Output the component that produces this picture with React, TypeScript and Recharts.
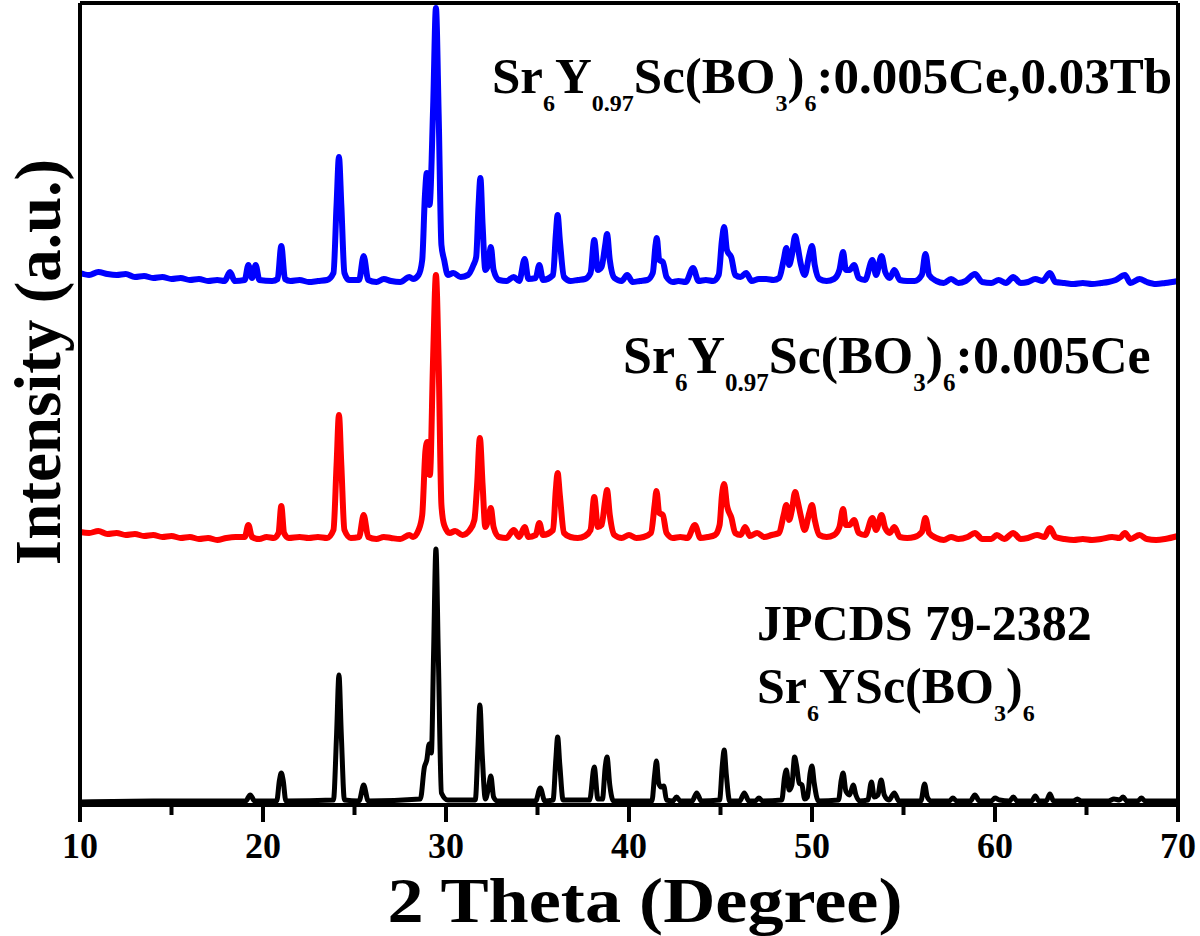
import React from "react";
import { LineChart, Line, XAxis, YAxis } from "recharts";

// 2θ (degree), intensity (a.u., offset stacked)
const bluePattern: [number, number][] = [
  [10, 532], [10.5, 530], [11, 533], [11.5, 531], [12, 530], [12.5, 531], [13, 528], [13.5, 529], [14, 527], [14.5, 528],
  [15, 526], [15.5, 527], [16, 525], [16.5, 526], [17, 524], [17.5, 525], [17.9, 524], [18.2, 533], [18.45, 524],
  [19.0, 525], [19.2, 540], [19.4, 527], [19.6, 540], [19.8, 525],
  [20.5, 524], [20.8, 526], [21.0, 559], [21.2, 526], [21.5, 524],
  [22, 525], [22.5, 523], [23, 524], [23.5, 525], [23.85, 532], [24.02, 600], [24.15, 648], [24.28, 600], [24.45, 532], [24.7, 525],
  [25.25, 525], [25.5, 549], [25.75, 525],
  [26.2, 523], [26.6, 526], [27.0, 524], [27.5, 523], [28.0, 528], [28.2, 526], [28.5, 530], [28.7, 545], [28.85, 610], [28.95, 632],
  [29.1, 600], [29.3, 700], [29.45, 797], [29.6, 690], [29.75, 560], [29.9, 545], [30.1, 530], [30.4, 532], [30.8, 528], [31.2, 530],
  [31.5, 540], [31.65, 548], [31.78, 600], [31.88, 627], [32.0, 580], [32.15, 535], [32.3, 540], [32.45, 558], [32.6, 535], [32.9, 525],
  [33.3, 524], [33.7, 528], [34.0, 524], [34.3, 546], [34.5, 526], [34.9, 527], [35.1, 540], [35.3, 525],
  [35.85, 530], [36.0, 570], [36.1, 590], [36.22, 565], [36.45, 528], [36.8, 524], [37.2, 525], [37.6, 526], [37.9, 532], [38.1, 565],
  [38.3, 535], [38.5, 538], [38.7, 560], [38.8, 571], [38.95, 545], [39.2, 527], [39.6, 524], [39.9, 530], [40.2, 523], [40.6, 524],
  [41.0, 525], [41.3, 532], [41.45, 560], [41.52, 567], [41.65, 545], [41.85, 543], [42.05, 528], [42.4, 523], [42.7, 524], [43.1, 523],
  [43.5, 537], [43.8, 524], [44.2, 525], [44.6, 524], [44.9, 530], [45.08, 565], [45.2, 578], [45.35, 555], [45.6, 547], [45.8, 530],
  [46.1, 528], [46.4, 532], [46.7, 524], [47.1, 526], [47.5, 526], [47.9, 525], [48.2, 527], [48.45, 545], [48.6, 557], [48.75, 540],
  [48.9, 550], [49.08, 569], [49.2, 560], [49.4, 540], [49.6, 530], [49.85, 550], [50.0, 559], [50.15, 540], [50.4, 526], [50.8, 524],
  [51.2, 526], [51.5, 535], [51.7, 553], [51.85, 535], [52.05, 535], [52.3, 540], [52.55, 527], [52.9, 525], [53.3, 545], [53.5, 530],
  [53.8, 549], [54.0, 533], [54.25, 527], [54.5, 535], [54.8, 525], [55.2, 524], [55.6, 524], [56.0, 530], [56.2, 551], [56.4, 530],
  [56.8, 524], [57.2, 522], [57.6, 526], [58.0, 522], [58.4, 524], [58.9, 531], [59.3, 523], [59.8, 522], [60.2, 525], [60.6, 522],
  [61.0, 528], [61.4, 522], [61.8, 523], [62.2, 526], [62.6, 524], [63.0, 532], [63.3, 523], [63.8, 522], [64.3, 521], [64.8, 522],
  [65.3, 521], [65.8, 522], [66.2, 523], [66.6, 525], [67.1, 530], [67.4, 522], [67.9, 526], [68.3, 523], [68.8, 521], [69.3, 522], [70, 524],
];

const redPattern: [number, number][] = [
  [10, 273], [10.5, 272], [11, 274], [11.5, 271], [12, 272], [12.5, 270], [13, 271], [13.5, 269], [14, 270], [14.5, 268],
  [15, 269], [15.5, 267], [16, 268], [16.5, 266], [17, 267], [17.5, 265], [18, 267], [18.5, 268], [19.0, 268], [19.2, 280],
  [19.4, 268], [19.8, 266], [20.2, 268], [20.6, 267], [20.85, 272], [21.0, 299], [21.15, 272], [21.4, 267], [22, 268], [22.5, 267],
  [23, 268], [23.5, 267], [23.85, 275], [24.02, 340], [24.15, 390], [24.28, 340], [24.45, 275], [24.8, 267], [25.25, 268], [25.5, 290],
  [25.75, 268], [26.2, 266], [26.6, 268], [27.0, 267], [27.5, 266], [28.0, 270], [28.2, 268], [28.5, 275], [28.7, 290], [28.88, 355],
  [28.98, 363], [29.12, 330], [29.3, 450], [29.45, 530], [29.6, 440], [29.75, 300], [29.9, 280], [30.2, 272], [30.5, 274], [30.9, 270],
  [31.3, 275], [31.55, 285], [31.7, 320], [31.85, 367], [32.0, 320], [32.15, 278], [32.3, 285], [32.45, 297], [32.6, 278], [32.9, 268],
  [33.3, 267], [33.7, 275], [34.0, 268], [34.3, 278], [34.5, 268], [34.9, 270], [35.1, 282], [35.3, 270], [35.85, 275], [36.0, 315],
  [36.1, 332], [36.22, 310], [36.45, 272], [36.8, 268], [37.2, 267], [37.6, 269], [37.9, 275], [38.1, 308], [38.3, 278], [38.5, 280],
  [38.7, 305], [38.8, 315], [38.95, 290], [39.2, 270], [39.6, 267], [40.0, 270], [40.4, 267], [40.8, 268], [41.2, 272], [41.4, 300],
  [41.5, 314], [41.65, 292], [41.85, 290], [42.05, 272], [42.4, 267], [42.8, 268], [43.2, 267], [43.6, 280], [43.9, 267], [44.3, 268],
  [44.7, 270], [44.95, 280], [45.08, 310], [45.2, 321], [45.35, 300], [45.6, 287], [45.8, 272], [46.1, 270], [46.35, 278], [46.6, 269],
  [47.0, 272], [47.4, 268], [47.8, 270], [48.2, 272], [48.45, 290], [48.6, 300], [48.75, 285], [48.9, 295], [49.08, 313], [49.2, 305],
  [49.4, 288], [49.6, 275], [49.85, 292], [50.0, 300], [50.15, 285], [50.4, 270], [50.8, 268], [51.2, 270], [51.5, 278], [51.7, 296],
  [51.85, 280], [52.05, 280], [52.3, 285], [52.55, 272], [52.9, 270], [53.3, 287], [53.5, 275], [53.8, 290], [54.0, 277], [54.25, 272],
  [54.5, 278], [54.8, 268], [55.2, 267], [55.6, 268], [56.0, 273], [56.2, 287], [56.4, 272], [56.8, 267], [57.2, 265], [57.6, 268],
  [58.0, 266], [58.5, 268], [58.9, 272], [59.3, 266], [59.8, 266], [60.1, 270], [60.5, 266], [61.0, 272], [61.4, 266], [61.8, 267],
  [62.3, 270], [62.7, 268], [63.0, 277], [63.3, 268], [63.8, 266], [64.3, 265], [64.8, 266], [65.3, 265], [65.8, 266], [66.4, 268],
  [66.8, 267], [67.1, 272], [67.4, 266], [67.9, 270], [68.3, 266], [68.8, 265], [69.3, 266], [70, 269],
];

const blackPattern: [number, number][] = [
  [10, 3], [14, 4], [19.05, 4], [19.3, 10], [19.55, 4],
  [20.75, 4], [20.9, 25], [21.0, 32], [21.1, 25], [21.25, 4],
  [23.85, 5], [24.02, 70], [24.15, 130], [24.28, 70], [24.45, 5],
  [25.25, 4], [25.5, 20], [25.75, 4],
  [28.6, 6], [28.82, 38], [28.95, 45], [29.08, 61], [29.2, 52], [29.32, 150], [29.45, 256], [29.58, 150], [29.75, 12], [30.1, 5],
  [31.6, 5], [31.75, 60], [31.85, 100], [31.98, 50], [32.15, 6], [32.3, 15], [32.45, 29], [32.6, 8], [32.8, 4],
  [34.9, 4], [35.15, 17], [35.4, 4],
  [35.85, 5], [36.0, 45], [36.1, 68], [36.22, 40], [36.4, 5],
  [37.85, 5], [38.1, 38], [38.3, 6], [38.55, 6], [38.7, 38], [38.8, 48], [38.95, 20], [39.15, 4],
  [41.25, 4], [41.4, 30], [41.5, 44], [41.62, 22], [41.75, 18], [41.9, 19], [42.05, 5], [42.4, 4], [42.6, 8], [42.8, 4],
  [43.45, 4], [43.7, 12], [43.95, 4],
  [44.95, 5], [45.1, 40], [45.2, 55], [45.32, 30], [45.5, 4],
  [46.05, 4], [46.3, 12], [46.55, 4], [46.9, 4], [47.1, 7], [47.3, 4],
  [48.35, 5], [48.5, 28], [48.6, 35], [48.75, 15], [48.9, 20], [49.05, 48], [49.15, 40], [49.3, 22], [49.45, 20], [49.6, 6],
  [49.75, 8], [49.9, 32], [50.0, 39], [50.12, 22], [50.35, 4],
  [51.45, 5], [51.6, 25], [51.7, 32], [51.85, 14], [52.05, 10], [52.25, 20], [52.4, 10], [52.6, 4],
  [53.05, 5], [53.25, 23], [53.4, 8], [53.6, 10], [53.78, 25], [53.95, 10], [54.2, 5], [54.5, 12], [54.75, 4],
  [55.95, 4], [56.15, 21], [56.3, 8], [56.5, 4],
  [57.5, 4], [57.7, 7], [57.9, 4],
  [58.65, 4], [58.9, 10], [59.15, 4],
  [59.8, 4], [60.0, 7], [60.25, 5],
  [60.8, 4], [61.0, 8], [61.2, 4],
  [62.0, 4], [62.2, 9], [62.4, 4], [62.8, 4], [63.0, 11], [63.2, 4],
  [64.3, 4], [64.5, 6], [64.7, 4],
  [66.2, 4], [66.5, 6], [66.8, 5], [67.0, 8], [67.2, 4],
  [67.8, 4], [68.0, 7], [68.2, 4],
  [70, 4],
];

const xTicks = [10, 15, 20, 25, 30, 35, 40, 45, 50, 55, 60, 65, 70];

const toRows = (arr: [number, number][]) => arr.map(([x, y]) => ({ x, y }));
const blueData = toRows(bluePattern);
const redData = toRows(redPattern);
const blackData = toRows(blackPattern);

const FONT = "'Liberation Serif', 'Times New Roman', serif";
const AXIS_Y = 805;

const XTick = (props: any) => {
  const { x, payload } = props;
  const v = payload.value;
  const major = v % 10 === 0;
  const len = major ? 17 : 10;
  return (
    <g>
      <rect x={x - 2} y={AXIS_Y} width={4} height={len} fill="#000" stroke="none" />
      {major && (
        <text x={x} y={AXIS_Y + 53} textAnchor="middle" fontFamily={FONT} fontWeight="bold" fontSize={36} fill="#000" stroke="none">
          {v}
        </text>
      )}
    </g>
  );
};

const Formula = ({ x, y, parts, size, sub, shift }: any) => (
  <text x={x} y={y} fontFamily={FONT} fontWeight="bold" fontSize={size} fill="#000">
    {parts.map((p: [string, boolean], i: number) => {
      const isSub = p[1];
      const prevSub = i > 0 ? parts[i - 1][1] : false;
      let dy = 0;
      if (isSub && !prevSub) dy = shift;
      if (!isSub && prevSub) dy = -shift;
      return (
        <tspan key={i} dy={dy} fontSize={isSub ? sub : size}>
          {p[0]}
        </tspan>
      );
    })}
  </text>
);

const blueLabel: [string, boolean][] = [
  ["Sr", false], ["6", true], ["Y", false], ["0.97", true], ["Sc(BO", false], ["3", true], [")", false], ["6", true], [":0.005Ce,0.03Tb", false],
];
const redLabel: [string, boolean][] = [
  ["Sr", false], ["6", true], ["Y", false], ["0.97", true], ["Sc(BO", false], ["3", true], [")", false], ["6", true], [":0.005Ce", false],
];
const refLabel: [string, boolean][] = [
  ["Sr", false], ["6", true], ["YSc(BO", false], ["3", true], [")", false], ["6", true],
];

const frame = { stroke: "#000", strokeWidth: 4 };

export default function App() {
  return (
    <div style={{ position: "absolute", left: 0, top: 0, width: 1200, height: 936, background: "#fff" }}>
      <LineChart width={1200} height={936} margin={{ top: 0, right: 0, bottom: 0, left: 0 }}>
        <XAxis
          type="number"
          dataKey="x"
          domain={[10, 70]}
          ticks={xTicks}
          height={131}
          tickSize={0}
          tickMargin={0}
          tickLine={false}
          tick={<XTick />}
          interval={0}
          stroke="#000"
          axisLine={frame}
        />
        <XAxis xAxisId="top" orientation="top" type="number" domain={[10, 70]} height={3} tick={false} tickLine={false} axisLine={frame} />
        <YAxis type="number" domain={[0, 802]} width={80} tick={false} tickLine={false} axisLine={frame} />
        <YAxis yAxisId="right" orientation="right" type="number" domain={[0, 802]} width={22} tick={false} tickLine={false} axisLine={frame} />
        <Line data={blackData} dataKey="y" type="monotone" stroke="#000" strokeWidth={5} dot={false} isAnimationActive={false} strokeLinejoin="round" />
        <Line data={redData} dataKey="y" type="monotone" stroke="#ff0000" strokeWidth={6} dot={false} isAnimationActive={false} strokeLinejoin="round" />
        <Line data={blueData} dataKey="y" type="monotone" stroke="#0000ff" strokeWidth={6} dot={false} isAnimationActive={false} strokeLinejoin="round" />
        <Formula x={492} y={93} parts={blueLabel} size={51} sub={24} shift={18} />
        <Formula x={623} y={373} parts={redLabel} size={52} sub={25} shift={18} />
        <text x={757} y={640} fontFamily={FONT} fontWeight="bold" fontSize={50} fill="#000">JPCDS 79-2382</text>
        <Formula x={757} y={703} parts={refLabel} size={50} sub={24} shift={18} />
        <text x={645} y={922} textAnchor="middle" textLength={515} lengthAdjust="spacingAndGlyphs" fontFamily={FONT} fontWeight="bold" fontSize={63} fill="#000">2 Theta (Degree)</text>
        <text x={60} y={362} transform="rotate(-90 60 362)" textAnchor="middle" fontFamily={FONT} fontWeight="bold" fontSize={65} fill="#000">Intensity (a.u.)</text>
      </LineChart>
    </div>
  );
}
